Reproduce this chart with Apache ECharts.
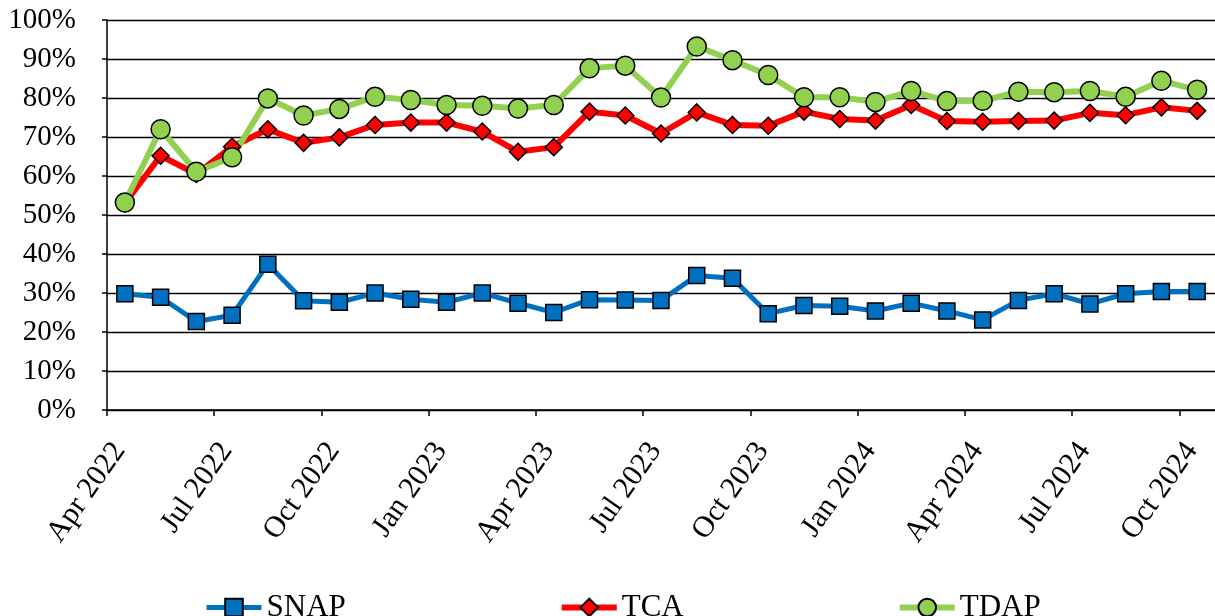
<!DOCTYPE html>
<html>
<head>
<meta charset="utf-8">
<script src="https://cdn.jsdelivr.net/npm/echarts@6/dist/echarts.min.js"></script>
<style>
  html, body { margin: 0; padding: 0; background: #ffffff; }
  #chart { width: 1215px; height: 616px; }
</style>
</head>
<body>
<div id="chart"></div>
<script>
// Monthly categories, April 2022 through October 2024
const months = [
  'Apr 2022', 'May 2022', 'Jun 2022', 'Jul 2022', 'Aug 2022', 'Sep 2022',
  'Oct 2022', 'Nov 2022', 'Dec 2022', 'Jan 2023', 'Feb 2023', 'Mar 2023',
  'Apr 2023', 'May 2023', 'Jun 2023', 'Jul 2023', 'Aug 2023', 'Sep 2023',
  'Oct 2023', 'Nov 2023', 'Dec 2023', 'Jan 2024', 'Feb 2024', 'Mar 2024',
  'Apr 2024', 'May 2024', 'Jun 2024', 'Jul 2024', 'Aug 2024', 'Sep 2024',
  'Oct 2024'
];

// Quarterly tick labels on the time axis
const tickLabels = [
  'Apr 2022', 'Jul 2022', 'Oct 2022', 'Jan 2023', 'Apr 2023', 'Jul 2023',
  'Oct 2023', 'Jan 2024', 'Apr 2024', 'Jul 2024', 'Oct 2024'
];

// Rates in percent
const snap = [29.8, 28.9, 22.7, 24.3, 37.4, 28.0, 27.6, 30.0, 28.4, 27.6, 30.0,
              27.4, 25.0, 28.3, 28.2, 28.1, 34.5, 33.8, 24.7, 26.8, 26.6, 25.4,
              27.4, 25.4, 23.1, 28.1, 29.8, 27.2, 29.8, 30.4, 30.4];
const tca  = [53.0, 65.2, 60.5, 67.5, 72.0, 68.5, 69.9, 73.1, 73.7, 73.7, 71.4,
              66.2, 67.4, 76.5, 75.5, 70.9, 76.3, 73.1, 72.9, 76.5, 74.6, 74.2,
              78.2, 74.1, 73.9, 74.1, 74.2, 76.2, 75.6, 77.6, 76.7];
const tdap = [53.2, 72.0, 61.1, 64.8, 79.9, 75.5, 77.2, 80.3, 79.5, 78.2, 78.0,
              77.3, 78.2, 87.6, 88.3, 80.1, 93.2, 89.7, 85.9, 80.2, 80.2, 79.0,
              81.8, 79.2, 79.3, 81.6, 81.5, 81.8, 80.3, 84.4, 82.1];

const yTicks = [0, 10, 20, 30, 40, 50, 60, 70, 80, 90, 100];

// Each month occupies one unit on the x scale; points sit mid-month,
// quarter ticks sit on month boundaries.
const pointsOf = values => months.map((m, i) => [i + 0.5, values[i]]);
const tickValues = tickLabels.map(l => months.indexOf(l));

const FONT = "'Liberation Serif', 'Times New Roman', serif";

const chart = echarts.init(document.getElementById('chart'), null, { renderer: 'canvas' });

function lineSeries(name, values, color, width, symbol, size) {
  return {
    name: name,
    type: 'line',
    data: pointsOf(values),
    symbol: symbol,
    symbolSize: size,
    showSymbol: true,
    showAllSymbol: true,
    lineStyle: { color: color, width: width },
    itemStyle: { color: color, borderColor: '#000000', borderWidth: 1.5 },
    emphasis: { disabled: true }
  };
}

chart.setOption({
  animation: false,
  backgroundColor: '#ffffff',
  grid: {
    left: 107, right: 0, top: 20, bottom: 206,
    containLabel: false,
    outerBoundsMode: 'none'
  },
  legend: {
    data: [
      { name: 'SNAP', lineStyle: { width: 5 } },
      { name: 'TCA', lineStyle: { width: 6 } },
      { name: 'TDAP', lineStyle: { width: 6 } }
    ],
    left: 204,
    top: 592,
    padding: 0,
    itemWidth: 55,
    itemHeight: 22,
    itemGap: 213,
    textStyle: { fontFamily: FONT, fontSize: 31, color: '#000000' }
  },
  xAxis: {
    type: 'value',
    min: 0,
    max: months.length,
    splitLine: { show: false },
    axisLine: { show: true, lineStyle: { color: '#000000', width: 1.5 } },
    axisTick: {
      show: true, length: 6, inside: false,
      customValues: tickValues,
      lineStyle: { color: '#000000', width: 1.5 }
    },
    axisLabel: {
      customValues: tickValues,
      rotate: 55,
      margin: 27,
      verticalAlign: 'top',
      fontFamily: FONT,
      fontSize: 30,
      color: '#000000',
      formatter: v => months[Math.round(v)] || ''
    }
  },
  yAxis: {
    type: 'value',
    min: 0,
    max: 100,
    interval: 10,
    splitLine: { show: true, lineStyle: { color: '#000000', width: 1.3 } },
    axisLine: { show: true, lineStyle: { color: '#000000', width: 1.5 } },
    axisTick: { show: true, length: 5, inside: false, lineStyle: { color: '#000000', width: 1.5 } },
    axisLabel: {
      customValues: yTicks,
      margin: 31,
      fontFamily: FONT,
      fontSize: 29,
      color: '#000000',
      formatter: '{value}%'
    }
  },
  series: [
    lineSeries('SNAP', snap, '#0070C0', 5, 'rect', 16),
    lineSeries('TCA', tca, '#FF0000', 6, 'diamond', 17),
    lineSeries('TDAP', tdap, '#92D050', 6, 'circle', 19)
  ]
});
</script>
</body>
</html>
